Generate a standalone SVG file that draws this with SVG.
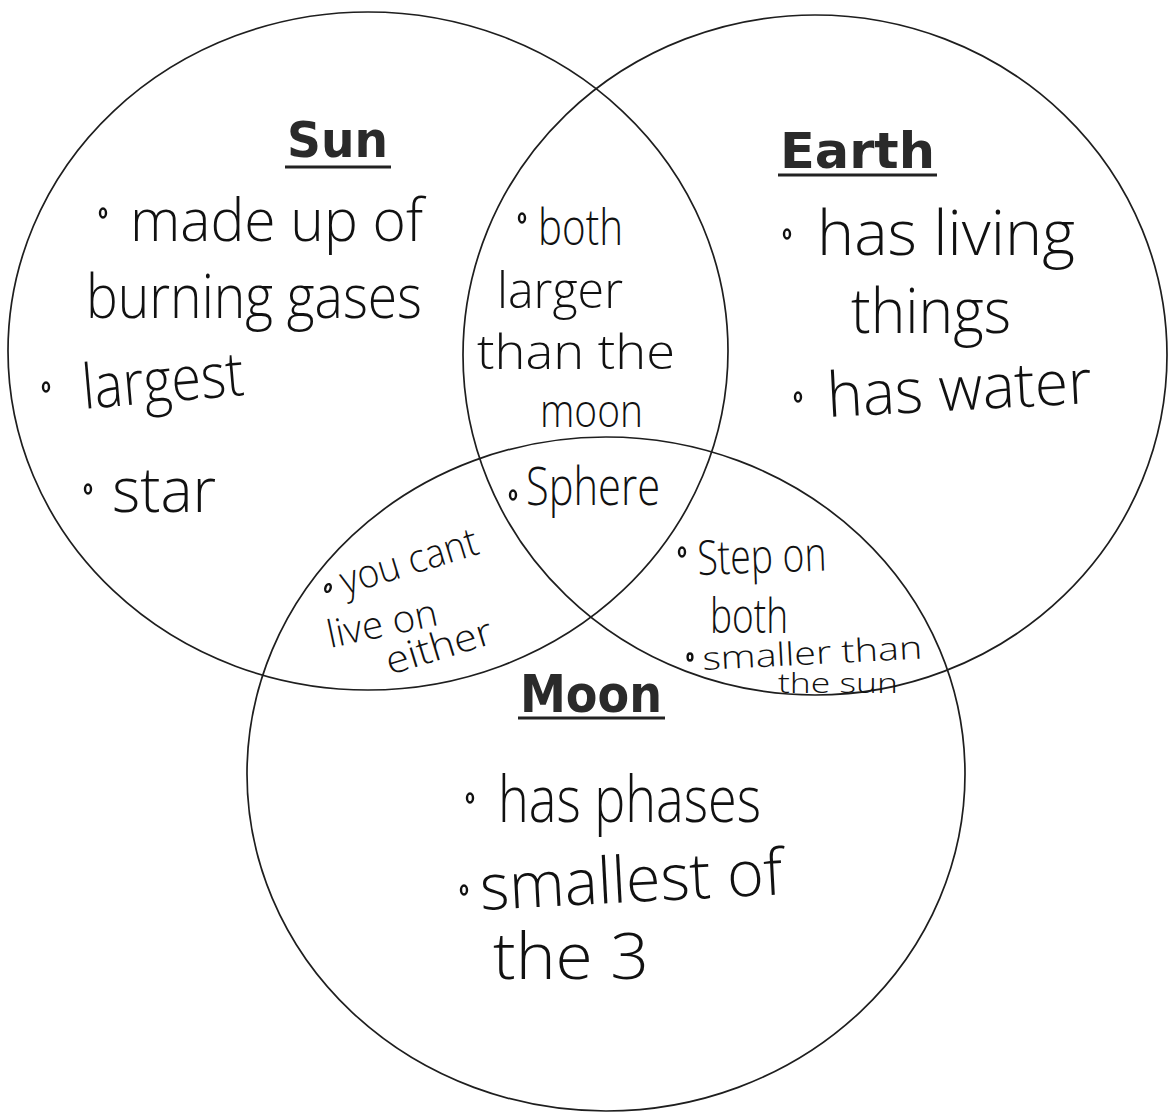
<svg xmlns="http://www.w3.org/2000/svg" width="1170" height="1112" viewBox="0 0 1170 1112">
<style>
.ring{fill:none;stroke:#1e1e1e;stroke-width:1.7}
.hw{font-family:"Open Sans","DejaVu Sans",sans-serif;font-weight:300;fill:#111}
.title{font-family:"DejaVu Sans","Liberation Sans",sans-serif;font-weight:bold;fill:#2a2a2a}
.ul{stroke:#222;stroke-width:3}
.dot{fill:#fff;stroke:#111;stroke-width:2.4}
</style>
<rect width="1170" height="1112" fill="#fff"/>
<g id="sun">
<ellipse class="ring" cx="368" cy="351" rx="360" ry="339"/>
<text class="title" x="287" y="157" font-size="50" textLength="101" lengthAdjust="spacingAndGlyphs">Sun</text>
<line class="ul" x1="285" y1="167" x2="391" y2="167"/>
<ellipse class="dot" cx="103" cy="213" rx="3" ry="4.5"/>
<text class="hw" x="130" y="241" font-size="58" textLength="293" lengthAdjust="spacingAndGlyphs">made up of</text>
<text class="hw" x="86" y="318" font-size="60" textLength="336" lengthAdjust="spacingAndGlyphs">burning gases</text>
<ellipse class="dot" cx="46" cy="387" rx="3" ry="4.5"/>
<text class="hw" x="84" y="409" font-size="62" textLength="162" lengthAdjust="spacingAndGlyphs" transform="rotate(-5 84 409)">largest</text>
<ellipse class="dot" cx="88" cy="489" rx="3" ry="4.5"/>
<text class="hw" x="112" y="512" font-size="62" textLength="104" lengthAdjust="spacingAndGlyphs">star</text>
</g>
<g id="earth">
<ellipse class="ring" cx="815" cy="355" rx="352" ry="340"/>
<text class="title" x="780" y="168" font-size="50" textLength="155" lengthAdjust="spacingAndGlyphs">Earth</text>
<line class="ul" x1="778" y1="175" x2="937" y2="175"/>
<ellipse class="dot" cx="787" cy="234" rx="3" ry="4.5"/>
<text class="hw" x="817" y="255" font-size="62" textLength="258" lengthAdjust="spacingAndGlyphs">has living</text>
<text class="hw" x="851" y="333" font-size="62" textLength="160" lengthAdjust="spacingAndGlyphs">things</text>
<ellipse class="dot" cx="798" cy="397" rx="3" ry="4.5"/>
<text class="hw" x="828" y="417" font-size="62" textLength="265" lengthAdjust="spacingAndGlyphs" transform="rotate(-3 828 417)">has water</text>
</g>
<g id="moon">
<ellipse class="ring" cx="606" cy="774" rx="359" ry="337"/>
<text class="title" x="520" y="712" font-size="52" textLength="142" lengthAdjust="spacingAndGlyphs">Moon</text>
<line class="ul" x1="518" y1="718" x2="665" y2="718"/>
<ellipse class="dot" cx="470" cy="798" rx="3" ry="4.5"/>
<text class="hw" x="498" y="822" font-size="64" textLength="263" lengthAdjust="spacingAndGlyphs">has phases</text>
<ellipse class="dot" cx="464" cy="890" rx="3" ry="4.5"/>
<text class="hw" x="481" y="910" font-size="64" textLength="303" lengthAdjust="spacingAndGlyphs" transform="rotate(-3 481 910)">smallest of</text>
<text class="hw" x="493" y="979" font-size="64" textLength="156" lengthAdjust="spacingAndGlyphs">the 3</text>
</g>
<g id="sun-earth">
<ellipse class="dot" cx="522" cy="218" rx="3" ry="4.5"/>
<text class="hw" x="538" y="245" font-size="50" textLength="85" lengthAdjust="spacingAndGlyphs">both</text>
<text class="hw" x="497" y="308" font-size="50" textLength="126" lengthAdjust="spacingAndGlyphs">larger</text>
<text class="hw" x="477" y="369" font-size="48" textLength="198" lengthAdjust="spacingAndGlyphs">than the</text>
<text class="hw" x="540" y="427" font-size="46" textLength="103" lengthAdjust="spacingAndGlyphs">moon</text>
</g>
<g id="all-three">
<ellipse class="dot" cx="513" cy="495" rx="3" ry="4.5"/>
<text class="hw" x="526" y="505" font-size="54" textLength="134" lengthAdjust="spacingAndGlyphs">Sphere</text>
</g>
<g id="sun-moon">
<ellipse class="dot" cx="328" cy="588" rx="2.6" ry="4" transform="rotate(20 328 588)"/>
<text class="hw" x="345" y="595" font-size="40" textLength="142" lengthAdjust="spacingAndGlyphs" transform="rotate(-17 345 595)">you cant</text>
<text class="hw" x="330" y="648" font-size="38" textLength="112" lengthAdjust="spacingAndGlyphs" transform="rotate(-12 330 648)">live on</text>
<text class="hw" x="390" y="675" font-size="38" textLength="110" lengthAdjust="spacingAndGlyphs" transform="rotate(-17 390 675)">either</text>
</g>
<g id="earth-moon">
<ellipse class="dot" cx="682" cy="552" rx="3" ry="4.5"/>
<text class="hw" x="698" y="575" font-size="48" textLength="129" lengthAdjust="spacingAndGlyphs" transform="rotate(-2 698 575)">Step on</text>
<text class="hw" x="710" y="633" font-size="48" textLength="78" lengthAdjust="spacingAndGlyphs">both</text>
<ellipse class="dot" cx="690" cy="657" rx="2.4" ry="3.5"/>
<text class="hw" x="703" y="670" font-size="32" textLength="220" lengthAdjust="spacingAndGlyphs" transform="rotate(-3 703 670)">smaller than</text>
<text class="hw" x="778" y="693" font-size="28" textLength="120" lengthAdjust="spacingAndGlyphs">the sun</text>
</g>
</svg>
